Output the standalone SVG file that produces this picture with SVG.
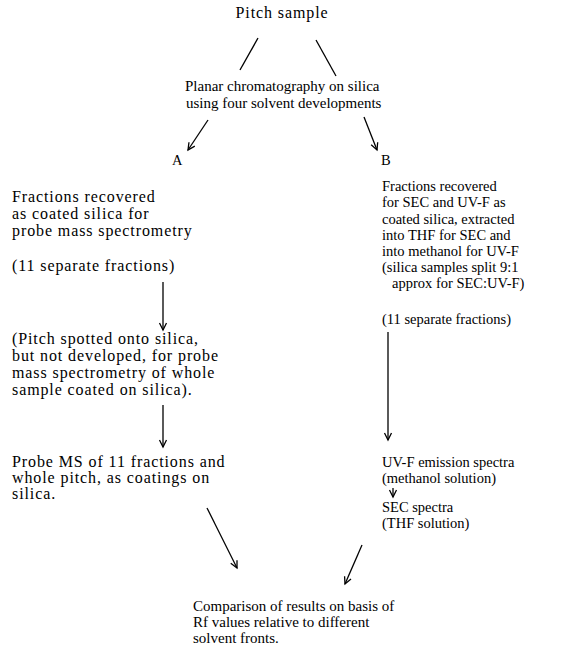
<svg xmlns="http://www.w3.org/2000/svg" width="566" height="661" viewBox="0 0 566 661">
<defs>
<marker id="ah" markerWidth="10" markerHeight="10" refX="8" refY="5" orient="auto" markerUnits="userSpaceOnUse">
<path d="M1,1.5 L8,5 L1,8.5" fill="none" stroke="#000" stroke-width="1.3"/>
</marker>
</defs>
<style>
text{font-family:"Liberation Serif","Times New Roman",serif;font-size:14.5px;fill:#000}
.w{font-size:16px;letter-spacing:0.9px}
.t{font-size:15px}
.c{stroke:#000;stroke-width:1.3;fill:none}
.a{marker-end:url(#ah)}
</style>
<rect width="566" height="661" fill="#fff"/>
<g id="pitch"><text class="w" x="282" y="18" text-anchor="middle">Pitch sample</text></g>
<g id="planar"><text class="t" x="185" y="91">Planar chromatography on silica</text><text class="t" x="186" y="108">using four solvent developments</text></g>
<g id="labelA"><text x="172" y="165">A</text></g>
<g id="labelB"><text x="381" y="165">B</text></g>
<g id="a1"><text class="w" x="12" y="202">Fractions recovered</text><text class="w" x="12" y="219">as coated silica for</text><text class="w" x="12" y="236">probe mass spectrometry</text><text class="w" x="12" y="271">(11 separate fractions)</text></g>
<g id="a2"><text class="w" x="12" y="344">(Pitch spotted onto silica,</text><text class="w" x="12" y="361">but not developed, for probe</text><text class="w" x="12" y="378">mass spectrometry of whole</text><text class="w" x="12" y="395">sample coated on silica).</text></g>
<g id="a3"><text class="w" x="12" y="467">Probe MS of 11 fractions and</text><text class="w" x="12" y="483">whole pitch, as coatings on</text><text class="w" x="12" y="499">silica.</text></g>
<g id="b1"><text x="382" y="191">Fractions recovered</text><text x="382" y="207">for SEC and UV-F as</text><text x="382" y="224">coated silica, extracted</text><text x="382" y="240">into THF for SEC and</text><text x="382" y="256">into methanol for UV-F</text><text x="382" y="272">(silica samples split 9:1</text><text x="392" y="288">approx for SEC:UV-F)</text><text x="382" y="324">(11 separate fractions)</text></g>
<g id="b2"><text x="382" y="467">UV-F emission spectra</text><text x="382" y="483">(methanol solution)</text></g>
<g id="b3"><text x="382" y="512">SEC spectra</text><text x="382" y="528">(THF solution)</text></g>
<g id="result"><text class="t" x="193" y="611">Comparison of results on basis of</text><text class="t" x="193" y="627">Rf values relative to different</text><text class="t" x="193" y="643">solvent fronts.</text></g>
<g id="connectors">
<line class="c" x1="258" y1="38" x2="240" y2="70"/>
<line class="c" x1="316" y1="40" x2="336" y2="76"/>
<line class="c a" x1="208" y1="120" x2="188" y2="150"/>
<line class="c a" x1="364" y1="117" x2="377" y2="150"/>
<line class="c a" x1="163" y1="282" x2="163" y2="330"/>
<line class="c a" x1="163" y1="405" x2="163" y2="447"/>
<line class="c a" x1="388" y1="332" x2="388" y2="440"/>
<line class="c a" x1="393" y1="488" x2="393" y2="497"/>
<line class="c a" x1="207" y1="508" x2="237" y2="568"/>
<line class="c a" x1="362" y1="545" x2="345" y2="584"/>
</g>
</svg>
